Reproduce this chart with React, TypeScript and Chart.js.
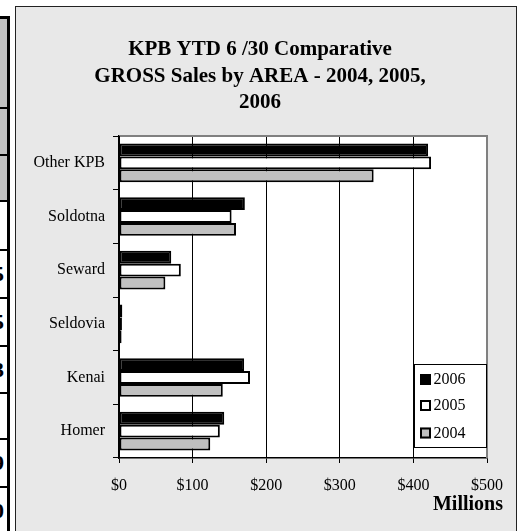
import React, { useEffect, useRef } from 'react';
import { Chart, registerables } from 'chart.js';

Chart.register(...registerables);

const categories = ['Other KPB', 'Soldotna', 'Seward', 'Seldovia', 'Kenai', 'Homer'];
const series2006 = [420, 171, 71, 4.5, 170, 143];
const series2005 = [424, 153, 84, 4, 178, 137];
const series2004 = [346, 159, 63, 3.5, 141, 124];
const seriesNames = ['2006', '2005', '2004'];
const xTickValues = [0, 100, 200, 300, 400, 500];
const titleLines = ['KPB YTD 6 /30 Comparative', 'GROSS Sales by AREA - 2004, 2005,', '2006'];
const axisUnit = 'Millions';
const tableDigits = ['5', '5', '3', '', '9', '0'];

const FONT = '"Liberation Serif", "Times New Roman", serif';
const fills = ['#000000', '#ffffff', '#c0c0c0'];

const drawPlugin = {
  id: 'customDraw',
  beforeDraw(chart: any) {
    const { ctx, chartArea: a } = chart;
    ctx.save();
    ctx.fillStyle = '#ffffff';
    ctx.fillRect(a.left, a.top, a.right - a.left, a.bottom - a.top);
    ctx.restore();
  },
  afterDraw(chart: any) {
    const { ctx, chartArea: a } = chart;
    ctx.save();
    // plot area border top/right (gray)
    ctx.strokeStyle = '#808080';
    ctx.lineWidth = 2;
    ctx.beginPath();
    ctx.moveTo(a.left + 1, a.top);
    ctx.lineTo(a.right, a.top);
    ctx.lineTo(a.right, a.bottom);
    ctx.stroke();

    // title
    ctx.fillStyle = '#000';
    ctx.font = 'bold 21px ' + FONT;
    ctx.textAlign = 'center';
    ctx.textBaseline = 'alphabetic';
    const baselines = [48, 74.5, 101];
    titleLines.forEach((t, i) => ctx.fillText(t, 244, baselines[i]));

    // axis unit
    ctx.font = 'bold 20px ' + FONT;
    ctx.textAlign = 'right';
    ctx.fillText(axisUnit, 487, 503);

    // legend
    const lx = 398, ly = 357, lw = 72, lh = 83;
    ctx.fillStyle = '#fff';
    ctx.fillRect(lx, ly, lw, lh);
    ctx.strokeStyle = '#000';
    ctx.lineWidth = 1;
    ctx.strokeRect(lx + 0.5, ly + 0.5, lw, lh);
    const centers = [372, 398, 425.5];
    chart.data.datasets.forEach((ds: any, i: number) => {
      const cy = centers[i];
      ctx.fillStyle = ds.backgroundColor;
      ctx.fillRect(404, cy - 5, 11, 11);
      ctx.strokeStyle = '#000';
      ctx.lineWidth = 2;
      ctx.strokeRect(405, cy - 4, 9, 9);
      ctx.fillStyle = '#000';
      ctx.font = '16px ' + FONT;
      ctx.textAlign = 'left';
      ctx.textBaseline = 'middle';
      ctx.fillText(ds.label, 417.5, cy + 1);
    });
    ctx.restore();
  },
};

function ChartCanvas() {
  const ref = useRef<HTMLCanvasElement>(null);
  useEffect(() => {
    if (!ref.current) return;
    const data = [series2006, series2005, series2004];
    const chart = new Chart(ref.current, {
      type: 'bar',
      data: {
        labels: categories,
        datasets: seriesNames.map((name, i) => ({
          label: name,
          data: data[i],
          backgroundColor: fills[i],
          borderColor: '#000',
          borderWidth: 2,
          borderSkipped: false,
          barPercentage: 1,
          categoryPercentage: 0.72,
        })),
      },
      options: {
        indexAxis: 'y',
        animation: false,
        responsive: false,
        devicePixelRatio: 1,
        layout: { padding: { top: 129, right: 29, bottom: 0, left: 0 } },
        plugins: {
          legend: { display: false },
          title: { display: false },
          tooltip: { enabled: false },
        },
        scales: {
          x: {
            type: 'linear',
            position: 'bottom',
            min: 0,
            max: 500,
            afterBuildTicks: (scale: any) => {
              scale.ticks = xTickValues.map((v) => ({ value: v }));
            },
            afterFit: (scale: any) => {
              scale.height = 73;
            },
            ticks: {
              color: '#000',
              font: { family: FONT, size: 16 },
              padding: 13,
              maxRotation: 0,
              callback: (v: any) => '$' + v,
            },
            grid: {
              color: (ctx: any) => (ctx.tick && ctx.tick.value === 500 ? 'rgba(0,0,0,0)' : '#000'),
              tickColor: '#000',
              lineWidth: 1,
              tickLength: 5,
            },
            border: { color: '#000', width: 1.5 },
          },
          y: {
            type: 'category',
            afterFit: (scale: any) => {
              scale.width = 103;
            },
            ticks: {
              color: '#000',
              font: { family: FONT, size: 16 },
              padding: 8,
            },
            grid: {
              drawOnChartArea: false,
              color: '#000',
              tickLength: 6,
              offset: true,
            },
            border: { color: '#000', width: 1.5 },
          },
        },
      },
      plugins: [drawPlugin],
    } as any);
    return () => chart.destroy();
  }, []);
  return (
    <canvas
      ref={ref}
      width={500}
      height={524}
      style={{ position: 'absolute', left: 0, top: 0, width: 500, height: 524 }}
    />
  );
}

const rowLines = [17, 108, 155, 201, 250, 298, 346, 393, 439, 487];
const digitCells = [250, 298, 346, 393, 439, 487];

export default function App() {
  return (
    <div
      style={{
        position: 'fixed',
        left: 0,
        top: 0,
        width: 522,
        height: 531,
        overflow: 'hidden',
        background: '#fff',
      }}
    >
      {/* fragment of neighbouring table */}
      <div style={{ position: 'absolute', left: 0, top: 17, width: 7, height: 184, background: '#c0c0c0' }} />
      <div style={{ position: 'absolute', left: 7, top: 16, width: 3, height: 530, background: '#000' }} />
      {rowLines.map((y, i) => (
        <div
          key={'l' + i}
          style={{ position: 'absolute', left: 0, top: y - 1, width: 9, height: i === 0 ? 3 : 2, background: '#000' }}
        />
      ))}
      {digitCells.map((y, i) => (
        <div
          key={'d' + i}
          style={{
            position: 'absolute',
            left: -46,
            top: y,
            width: 50,
            height: 47,
            lineHeight: '47px',
            textAlign: 'right',
            fontFamily: FONT,
            fontWeight: 'bold',
            fontSize: 22,
            color: '#000',
          }}
        >
          {tableDigits[i]}
        </div>
      ))}
      {/* chart frame */}
      <div
        style={{
          position: 'absolute',
          left: 15,
          top: 6,
          width: 500,
          height: 540,
          border: '1px solid #222',
          background: '#e8e8e8',
        }}
      >
        <ChartCanvas />
      </div>
    </div>
  );
}
